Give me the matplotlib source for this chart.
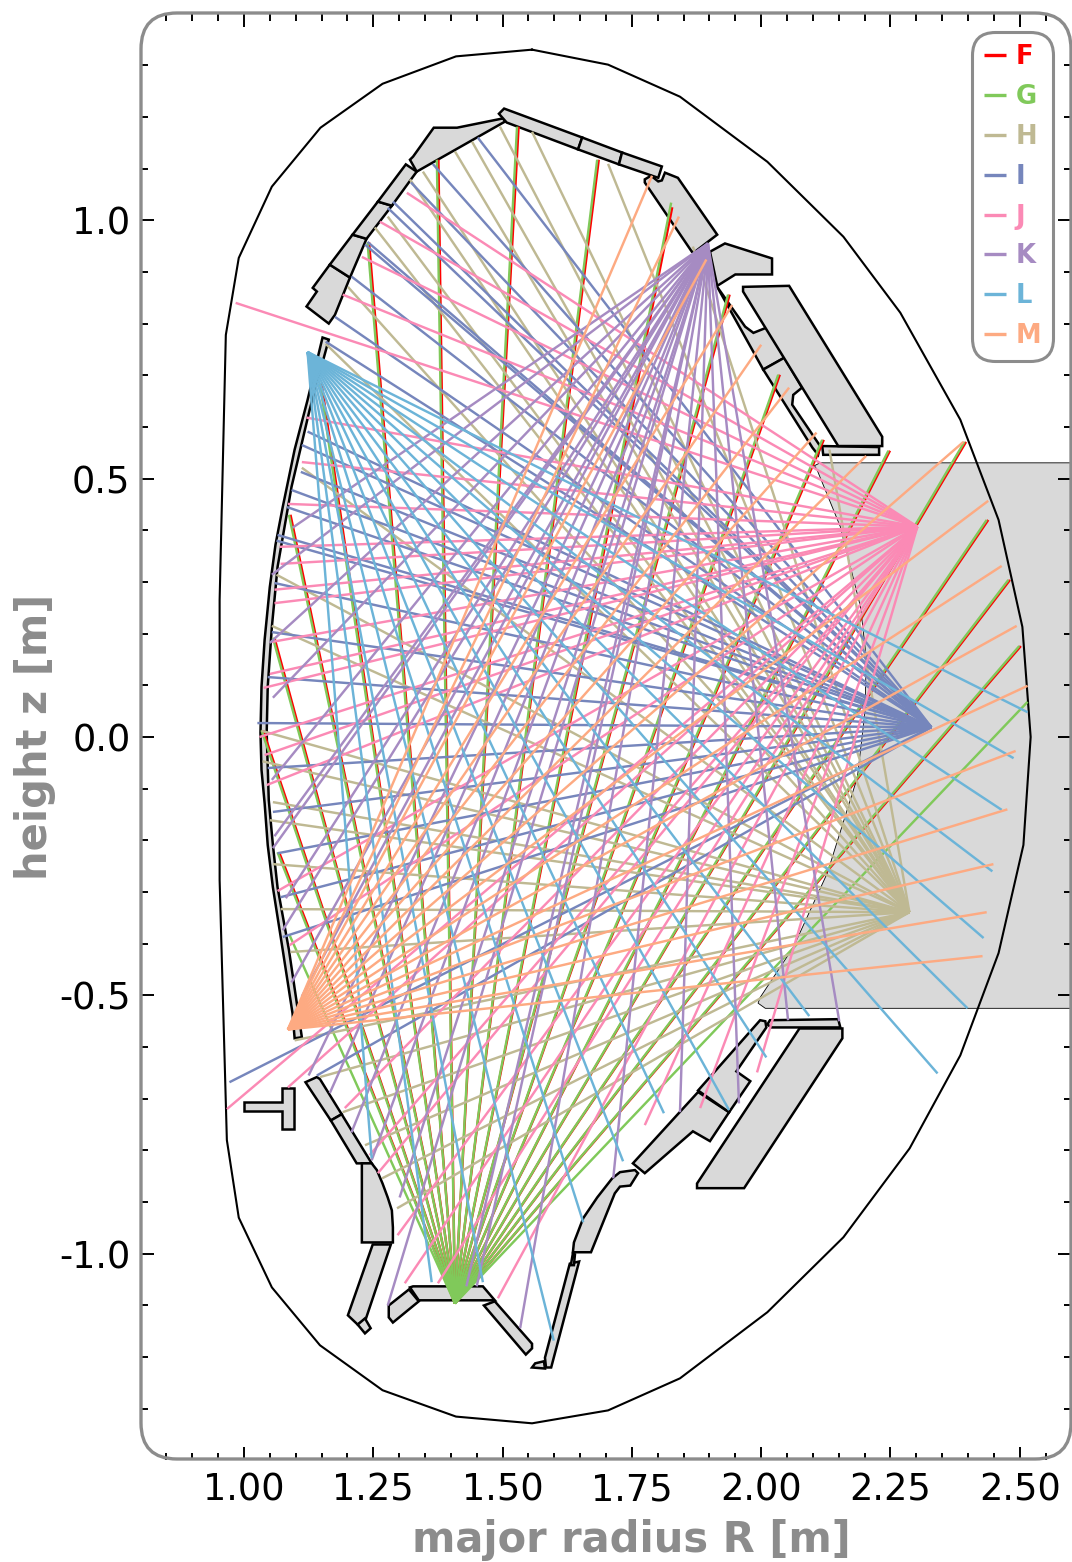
#!/usr/bin/python

import matplotlib
matplotlib.use("Agg")
import matplotlib.pyplot as plt
from matplotlib.patches import Polygon, FancyBboxPatch
from matplotlib.ticker import MultipleLocator, FormatStrFormatter

plt.rcParams['axes.unicode_minus'] = False

GREY = '#8c8c8c'

# vessel wall
wall_R = [1.557, 1.410, 1.268, 1.148, 1.054, 0.990, 0.965, 0.953, 0.953, 0.953, 0.967, 0.990,
          1.054, 1.147, 1.268, 1.410, 1.557, 1.704, 1.843, 2.012, 2.159, 2.287, 2.385, 2.459,
          2.507, 2.521, 2.505, 2.459, 2.385, 2.269, 2.159, 2.012, 1.843, 1.704, 1.557]
wall_z = [1.330, 1.317, 1.264, 1.179, 1.065, 0.927, 0.778, 0.265, 0.000, -0.277, -0.780, -0.930,
          -1.065, -1.177, -1.264, -1.315, -1.328, -1.303, -1.241, -1.113, -0.968, -0.796, -0.616, -0.418,
          -0.209, 0.000, 0.213, 0.420, 0.614, 0.821, 0.968, 1.113, 1.239, 1.301, 1.330]

# port region seen from the plasma side
port = [(2.6, 0.5305), (2.6, -0.525), (2.008, -0.525), (1.994, -0.515), (1.998, -0.504), (2.062, -0.407),
        (2.128, -0.263), (2.186, -0.078), (2.201, 0.052), (2.203, 0.155), (2.192, 0.252), (2.153, 0.407),
        (2.108, 0.517), (2.103, 0.525), (2.114, 0.5305)]

# first wall tiles
tiles = [
    [(1.152, 0.773), (1.123, 0.652), (1.098, 0.556), (1.075, 0.445), (1.061, 0.372), (1.050, 0.290), (1.040, 0.188),
     (1.034, 0.097), (1.032, 0.008), (1.034, -0.064), (1.040, -0.128), (1.046, -0.209), (1.056, -0.291), (1.075, -0.412),
     (1.094, -0.535), (1.098, -0.583), (1.112, -0.581), (1.087, -0.412), (1.065, -0.291), (1.056, -0.209), (1.048, -0.122),
     (1.044, 0.008), (1.046, 0.097), (1.054, 0.213), (1.065, 0.329), (1.092, 0.484), (1.127, 0.633), (1.164, 0.769)],
    [(1.121, 0.833), (1.164, 0.800), (1.176, 0.817), (1.205, 0.889), (1.166, 0.914), (1.133, 0.869), (1.141, 0.862)],
    [(1.166, 0.914), (1.210, 0.972), (1.237, 0.964), (1.205, 0.889)],
    [(1.210, 0.972), (1.259, 1.036), (1.286, 1.028), (1.237, 0.964)],
    [(1.259, 1.036), (1.313, 1.108), (1.334, 1.094), (1.286, 1.028)],
    [(1.334, 1.094), (1.321, 1.117), (1.327, 1.123), (1.367, 1.179), (1.412, 1.179), (1.501, 1.197), (1.505, 1.191)],
    [(1.493, 1.206), (1.503, 1.216), (1.654, 1.160), (1.646, 1.137), (1.508, 1.189)],
    [(1.654, 1.160), (1.731, 1.131), (1.725, 1.108), (1.646, 1.137)],
    [(1.731, 1.131), (1.808, 1.104), (1.801, 1.082), (1.725, 1.108)],
    [(1.775, 1.079), (1.787, 1.086), (1.801, 1.075), (1.808, 1.077), (1.814, 1.092), (1.839, 1.082), (1.915, 0.972),
     (1.872, 0.939), (1.866, 0.939), (1.775, 1.073)],
    [(1.901, 0.939), (1.930, 0.955), (2.021, 0.926), (2.021, 0.895), (1.950, 0.895), (1.915, 0.873)],
    [(1.915, 0.871), (1.969, 0.794), (1.985, 0.782), (2.010, 0.792), (2.045, 0.734), (2.004, 0.711)],
    [(2.004, 0.711), (2.045, 0.734), (2.079, 0.676), (2.062, 0.662), (2.060, 0.643), (2.114, 0.563), (2.110, 0.546),
     (2.099, 0.560)],
    [(2.118, 0.563), (2.228, 0.561), (2.228, 0.546), (2.120, 0.546)],
    [(1.965, 0.871), (2.054, 0.873), (2.234, 0.581), (2.234, 0.563), (2.149, 0.563), (1.965, 0.862)],
    [(1.001, -0.707), (1.073, -0.707), (1.073, -0.680), (1.096, -0.680), (1.096, -0.759), (1.073, -0.759),
     (1.073, -0.724), (1.001, -0.724)],
    [(1.119, -0.668), (1.141, -0.658), (1.147, -0.662), (1.189, -0.730), (1.168, -0.742)],
    [(1.168, -0.742), (1.189, -0.730), (1.247, -0.825), (1.218, -0.825)],
    [(1.228, -0.825), (1.247, -0.825), (1.257, -0.838), (1.268, -0.864), (1.278, -0.891), (1.286, -0.916), (1.288, -0.949),
     (1.288, -0.978), (1.228, -0.978)],
    [(1.249, -0.982), (1.284, -0.982), (1.236, -1.125), (1.220, -1.137), (1.201, -1.119)],
    [(1.220, -1.137), (1.234, -1.125), (1.245, -1.144), (1.234, -1.154)],
    [(1.321, -1.065), (1.327, -1.063), (1.462, -1.063), (1.485, -1.090), (1.338, -1.090)],
    [(1.280, -1.100), (1.319, -1.069), (1.338, -1.092), (1.288, -1.133), (1.280, -1.123)],
    [(1.464, -1.100), (1.485, -1.092), (1.557, -1.174), (1.557, -1.183), (1.545, -1.195)],
    [(1.557, -1.220), (1.563, -1.212), (1.580, -1.208), (1.582, -1.222)],
    [(1.584, -1.220), (1.582, -1.201), (1.630, -1.019), (1.648, -1.015), (1.594, -1.220)],
    [(1.632, -1.022), (1.636, -0.999), (1.640, -1.001), (1.638, -1.022)],
    [(1.636, -0.997), (1.638, -0.978), (1.656, -0.931), (1.683, -0.891), (1.712, -0.854), (1.727, -0.842), (1.756, -0.838),
     (1.762, -0.844), (1.747, -0.868), (1.727, -0.870), (1.717, -0.883), (1.671, -0.997)],
    [(1.752, -0.825), (1.878, -0.687), (1.938, -0.726), (1.901, -0.782), (1.868, -0.763), (1.775, -0.844)],
    [(1.878, -0.684), (1.998, -0.548), (2.008, -0.550), (2.010, -0.562), (1.952, -0.647), (1.979, -0.666), (1.938, -0.726)],
    [(2.017, -0.548), (2.149, -0.546), (2.153, -0.562), (2.019, -0.562), (2.012, -0.556)],
    [(2.074, -0.564), (2.157, -0.564), (2.157, -0.583), (1.967, -0.873), (1.876, -0.873), (1.876, -0.864)],
]

# lines of sight, one camera per name: pinhole and end points on the wall
names = ['F', 'G', 'H', 'I', 'J', 'K', 'L', 'M']
colors = {'F': '#ff0000', 'G': '#80c95a', 'H': '#bfb993', 'I': '#7686bc',
          'J': '#fb8ab5', 'K': '#a68bc2', 'L': '#6cb4d8', 'M': '#fdaa82'}

origin = {'F': (1.408, -1.096), 'G': (1.408, -1.096), 'H': (2.2865, -0.339), 'I': (2.329, 0.019),
          'J': (2.302, 0.407), 'K': (1.897, 0.955), 'L': (1.123, 0.745), 'M': (1.085, -0.566)}

F_R = [1.068, 1.037, 1.059, 1.090, 1.150, 1.242, 1.376, 1.531, 1.686, 1.828, 1.939, 2.036, 2.121, 2.249, 2.396,
       2.439, 2.481, 2.502]
F_z = [-0.223, 0.013, 0.192, 0.430, 0.685, 0.957, 1.117, 1.181, 1.117, 1.025, 0.856, 0.701, 0.575, 0.554, 0.571,
       0.420, 0.304, 0.176]
G_R = [1.088, 1.065, 1.034, 1.056, 1.087, 1.147, 1.239, 1.373, 1.528, 1.683, 1.826, 1.936, 2.033, 2.118, 2.246,
       2.393, 2.436, 2.478, 2.499, 2.515]
G_z = [-0.383, -0.223, 0.013, 0.192, 0.430, 0.685, 0.957, 1.117, 1.181, 1.117, 1.034, 0.856, 0.701, 0.575, 0.554,
       0.571, 0.420, 0.304, 0.176, 0.068]
H_R = [1.495, 1.557, 1.441, 1.408, 1.346, 1.321, 1.278, 1.253, 1.201, 1.704, 1.868, 2.132, 1.158, 1.112, 1.063,
       1.054, 1.034, 1.036, 1.056, 1.050, 1.056, 1.071, 1.090, 1.098, 1.147, 1.191, 1.234, 1.267, 1.296]
H_z = [1.181, 1.171, 1.152, 1.133, 1.094, 1.079, 1.007, 0.986, 0.871, 1.109, 0.949, 0.556, 0.761, 0.521, 0.314,
       0.215, 0.012, -0.047, -0.126, -0.161, -0.246, -0.333, -0.416, -0.587, -0.658, -0.726, -0.790, -0.854, -0.912]
I_R = [1.452, 1.365, 1.323, 1.288, 1.278, 1.239, 1.234, 1.208, 1.176, 1.158, 1.123, 1.112, 1.110, 1.092, 1.083,
       1.065, 1.063, 1.059, 1.054, 1.046, 1.026, 1.046, 1.056, 1.065, 1.071, 1.075, 0.972, 1.141]
I_z = [1.160, 1.109, 1.073, 1.036, 1.024, 0.958, 0.953, 0.891, 0.813, 0.765, 0.591, 0.565, 0.513, 0.478, 0.445,
       0.391, 0.380, 0.298, 0.203, 0.116, 0.027, -0.060, -0.145, -0.225, -0.310, -0.387, -0.668, -0.655]
J_R = [0.984, 1.315, 1.263, 1.228, 1.191, 1.121, 1.112, 1.085, 1.069, 1.071, 1.059, 1.059, 1.054, 1.050, 1.038,
       1.030, 1.040, 1.044, 1.065, 1.088, 0.967, 1.085, 1.195, 1.243, 1.259, 1.297, 1.311, 1.375, 1.491, 1.775,
       1.882, 1.992]
J_z = [0.840, 1.053, 0.997, 0.929, 0.856, 0.618, 0.532, 0.451, 0.368, 0.335, 0.285, 0.259, 0.184, 0.122, 0.095,
       0.000, -0.035, -0.093, -0.298, -0.403, -0.720, -0.678, -0.718, -0.809, -0.844, -0.964, -1.057, -1.057, -1.086,
       -0.751, -0.718, -0.649]
K_R = [1.094, 1.054, 1.050, 1.056, 1.054, 1.059, 1.056, 1.081, 1.075, 1.092, 1.112, 1.125, 1.166, 1.208, 1.247,
       1.301, 1.278, 1.430, 1.450, 1.534, 1.714, 1.843, 1.957, 2.052, 2.151]
K_z = [0.405, 0.314, 0.182, 0.076, -0.083, -0.192, -0.215, -0.312, -0.374, -0.475, -0.502, -0.655, -0.689, -0.765,
       -0.819, -0.891, -1.100, -1.063, -1.063, -1.144, -0.854, -0.726, -0.709, -0.548, -0.550]
L_R = [1.247, 1.363, 1.462, 1.599, 1.656, 1.733, 1.812, 1.938, 2.010, 2.093, 2.341, 2.399, 2.430, 2.447, 2.465,
       2.488, 2.515]
L_z = [-0.815, -1.055, -1.055, -1.168, -0.939, -0.821, -0.728, -0.722, -0.620, -0.540, -0.651, -0.525, -0.389, -0.260,
       -0.141, -0.041, 0.048]
M_R = [1.789, 1.841, 1.894, 1.944, 2.000, 2.054, 2.107, 2.203, 2.391, 2.439, 2.465, 2.494, 2.515, 2.492, 2.476,
       2.449, 2.436, 2.428]
M_z = [1.086, 1.007, 0.924, 0.836, 0.759, 0.676, 0.589, 0.544, 0.571, 0.457, 0.331, 0.215, 0.099, -0.027, -0.140,
       -0.246, -0.339, -0.424]

ends = {'F': (F_R, F_z), 'G': (G_R, G_z), 'H': (H_R, H_z), 'I': (I_R, I_z),
        'J': (J_R, J_z), 'K': (K_R, K_z), 'L': (L_R, L_z), 'M': (M_R, M_z)}

fig = plt.figure(figsize=(10.72, 15.62), dpi=100)
ax = fig.add_axes([141 / 1072., 102 / 1562., 930 / 1072., 1446 / 1562.])

ax.add_patch(Polygon(port, closed=True, fc='#d9d9d9', ec='k', lw=0.6, zorder=1))
for t in tiles:
    ax.add_patch(Polygon(t, closed=True, fc='#d9d9d9', ec='k', lw=1.8, zorder=1.5))
ax.plot(wall_R, wall_z, color='k', lw=1.5, zorder=1.5)

for name in names:
    R0, z0 = origin[name]
    eR, ez = ends[name]
    for i in range(len(eR)):
        lab = name if i == 0 else None
        ax.plot([R0, eR[i]], [z0, ez[i]], color=colors[name], lw=1.75, label=lab, zorder=2,
                solid_capstyle='butt')

# limits just inside the round numbers, no ticks in the round corners
ax.set_xlim(0.801, 2.599)
ax.set_ylim(-1.399, 1.399)
ax.xaxis.set_major_locator(MultipleLocator(0.25))
ax.xaxis.set_minor_locator(MultipleLocator(0.05))
ax.yaxis.set_major_locator(MultipleLocator(0.5))
ax.yaxis.set_minor_locator(MultipleLocator(0.1))
ax.xaxis.set_major_formatter(FormatStrFormatter('%.2f'))
ax.yaxis.set_major_formatter(FormatStrFormatter('%.1f'))
ax.tick_params(which='both', direction='in', top=True, right=True, width=1.4)
ax.tick_params(which='major', length=9.5, labelsize=26.5)
ax.tick_params(axis='x', which='major', pad=8)
ax.tick_params(axis='y', which='major', pad=7.5)
ax.tick_params(which='minor', length=5)

for s in ax.spines.values():
    s.set_visible(False)

# the frame has round corners, so it replaces the spines
frame = FancyBboxPatch((1.41, 1.03), 9.30, 14.46, boxstyle='round,pad=0,rounding_size=0.36',
                       transform=fig.dpi_scale_trans, fc='none', ec=GREY, lw=2.4, zorder=5)
fig.add_artist(frame)

ax.set_xlabel('major radius R [m]', fontsize=30, fontweight='bold', color=GREY, va='center')
ax.set_ylabel('height z [m]', fontsize=30, fontweight='bold', color=GREY, va='center')
ax.xaxis.set_label_coords(0.5274, -0.0555)
ax.yaxis.set_label_coords(-0.114, 0.5)

leg = ax.legend(loc='upper right', bbox_to_anchor=(0.9806, 0.9876), borderaxespad=0,
                prop={'weight': 'bold', 'size': 18.5}, labelcolor='linecolor', handlelength=0.87,
                handletextpad=0.35, labelspacing=0.54, borderpad=0.47, framealpha=1,
                edgecolor=GREY, fancybox=True)
leg.get_frame().set_linewidth(2.2)
leg.get_frame().set_boxstyle('round', pad=0, rounding_size=0.9)
for h in leg.get_lines():
    h.set_linewidth(2.4)

plt.savefig("out.png", dpi=100)
